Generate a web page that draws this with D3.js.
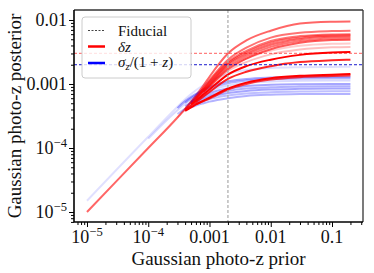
<!DOCTYPE html>
<html>
<head>
<meta charset="utf-8">
<script src="https://cdn.jsdelivr.net/npm/d3@7"></script>
<style>
  body { margin: 0; background: #fff; }
  svg text { font-family: "Liberation Serif", "DejaVu Serif", serif; fill: #111; }
</style>
</head>
<body>
<div id="chart"></div>
<script>
var priorGrid = [1e-5, 1e-4, 3e-4, 4e-4, 5e-4, 6e-4, 8e-4, 1e-3, 2e-3, 4e-3, 1e-2, 3e-2, 0.1, 0.2];

// delta z posterior, one array per bin (null = curve not drawn there)
var deltaZ = [
  [1e-5, 1e-4, 3e-4, 4.1e-4, 5.3e-4, 6.6e-4, 9.5e-4, 1.3e-3, 3.0e-3, 4.8e-3, 6.8e-3, 8.8e-3, 9.4e-3, 9.5e-3],
  [null, null, null, 4.05e-4, 5.2e-4, 6.3e-4, 8.8e-4, 1.15e-3, 2.4e-3, 3.7e-3, 5.3e-3, 6.3e-3, 6.7e-3, 6.8e-3],
  [null, null, null, null, 5.1e-4, 6.1e-4, 8.5e-4, 1.1e-3, 2.2e-3, 3.3e-3, 4.7e-3, 5.6e-3, 5.95e-3, 6.0e-3],
  [null, null, null, null, null, 6.0e-4, 8.2e-4, 1.05e-3, 2.1e-3, 3.1e-3, 4.4e-3, 5.3e-3, 5.7e-3, 5.75e-3],
  [null, null, null, null, 5.0e-4, 5.9e-4, 8.0e-4, 1.0e-3, 2.0e-3, 2.9e-3, 4.1e-3, 5.0e-3, 5.45e-3, 5.5e-3],
  [null, null, null, null, null, 5.8e-4, 7.7e-4, 9.6e-4, 1.85e-3, 2.7e-3, 3.8e-3, 4.7e-3, 5.15e-3, 5.2e-3],
  [null, null, null, null, null, null, 7.5e-4, 9.2e-4, 1.7e-3, 2.5e-3, 3.5e-3, 4.4e-3, 4.85e-3, 4.9e-3],
  [null, null, 3e-4, 4.0e-4, 4.9e-4, 5.8e-4, 7.7e-4, 9.5e-4, 1.8e-3, 2.5e-3, 3.3e-3, 3.95e-3, 4.25e-3, 4.3e-3],
  [null, null, null, 4.0e-4, 4.8e-4, 5.6e-4, 7.3e-4, 8.8e-4, 1.6e-3, 2.2e-3, 2.9e-3, 3.45e-3, 3.75e-3, 3.8e-3],
  [null, null, null, null, 4.8e-4, 5.5e-4, 6.9e-4, 8.2e-4, 1.4e-3, 1.9e-3, 2.4e-3, 2.85e-3, 3.1e-3, 3.15e-3],
  [null, null, null, 3.9e-4, 4.6e-4, 5.2e-4, 6.4e-4, 7.5e-4, 1.2e-3, 1.55e-3, 1.9e-3, 2.2e-3, 2.35e-3, 2.4e-3],
  [null, null, null, 3.8e-4, 4.3e-4, 4.8e-4, 5.5e-4, 6.1e-4, 8.5e-4, 1.05e-3, 1.23e-3, 1.34e-3, 1.4e-3, 1.43e-3],
  [null, null, null, null, null, 4.8e-4, 5.4e-4, 5.9e-4, 8.2e-4, 1.0e-3, 1.17e-3, 1.28e-3, 1.33e-3, 1.36e-3]
];
var deltaAlpha = [0.6, 0.55, 0.55, 0.55, 0.6, 0.55, 0.65, 0.2, 0.25, 1, 0.85, 1, 0.75];

// sigma_z/(1+z) posterior
var sigmaZ = [
  [1.5e-5, 1.5e-4, 4.4e-4, 5.8e-4, 7.0e-4, 8.0e-4, 9.6e-4, 1.1e-3, 1.45e-3, 1.65e-3, 1.78e-3, 1.83e-3, 1.85e-3, 1.86e-3],
  [null, null, 4.2e-4, 5.4e-4, 6.3e-4, 7.0e-4, 8.2e-4, 9.0e-4, 1.1e-3, 1.2e-3, 1.26e-3, 1.29e-3, 1.3e-3, 1.3e-3],
  [null, null, null, 5.1e-4, 6.0e-4, 6.7e-4, 7.7e-4, 8.5e-4, 1.03e-3, 1.13e-3, 1.19e-3, 1.22e-3, 1.23e-3, 1.23e-3],
  [null, 1.4e-4, 3.9e-4, 4.9e-4, 5.7e-4, 6.3e-4, 7.2e-4, 7.9e-4, 9.5e-4, 1.04e-3, 1.09e-3, 1.12e-3, 1.13e-3, 1.13e-3],
  [null, null, null, null, 5.3e-4, 5.8e-4, 6.6e-4, 7.2e-4, 8.5e-4, 9.3e-4, 9.7e-4, 9.9e-4, 1.0e-3, 1.0e-3],
  [null, null, null, 4.5e-4, 5.1e-4, 5.5e-4, 6.2e-4, 6.7e-4, 7.8e-4, 8.5e-4, 8.9e-4, 9.1e-4, 9.2e-4, 9.2e-4],
  [null, null, null, null, null, 5.2e-4, 5.8e-4, 6.3e-4, 7.2e-4, 7.8e-4, 8.2e-4, 8.4e-4, 8.5e-4, 8.5e-4],
  [null, null, 3.4e-4, 4.1e-4, 4.5e-4, 4.9e-4, 5.4e-4, 5.8e-4, 6.6e-4, 7.1e-4, 7.4e-4, 7.6e-4, 7.7e-4, 7.7e-4],
  [null, null, null, null, 4.3e-4, 4.6e-4, 5.0e-4, 5.3e-4, 6.0e-4, 6.5e-4, 6.8e-4, 6.95e-4, 7.0e-4, 7.0e-4]
];
var sigmaAlpha = [0.12, 0.35, 0.3, 0.15, 0.35, 0.3, 0.35, 0.25, 0.3];

var fiducialPrior = 0.002;
var fiducialDelta = 0.003;
var fiducialSigma = 0.002;

var xTicks = [1e-5, 1e-4, 1e-3, 1e-2, 1e-1];
var xTickLabels = [["10", "\u22125"], ["10", "\u22124"], ["0.001"], ["0.01"], ["0.1"]];
var yTicks = [1e-5, 1e-4, 1e-3, 1e-2];
var yTickLabels = [["10", "\u22125"], ["10", "\u22124"], ["0.001"], ["0.01"]];

var w = 374, h = 273;
var margin = {top: 10, right: 11, bottom: 51, left: 74};
var iw = w - margin.left - margin.right;
var ih = h - margin.top - margin.bottom;

var svg = d3.select("#chart").append("svg")
    .attr("width", w)
    .attr("height", h);

var g = svg.append("g")
    .attr("transform", "translate(" + margin.left + "," + margin.top + ")");

var x = d3.scaleLog().domain([Math.pow(10, -5.212), Math.pow(10, -0.494)]).range([0, iw]);
var y = d3.scaleLog().domain([Math.pow(10, -5.156), Math.pow(10, -1.844)]).range([ih, 0]);

g.append("clipPath").attr("id", "clip")
  .append("rect").attr("width", iw).attr("height", ih);

var line = d3.line()
    .defined(function(d) { return d[1] != null; })
    .x(function(d) { return x(d[0]); })
    .y(function(d) { return y(d[1]); })
    .curve(d3.curveMonotoneX);

var curves = g.append("g").attr("clip-path", "url(#clip)");

// interleave the bins: blue first then red for each
var n = Math.max(deltaZ.length, sigmaZ.length);
for (var i = 0; i < n; i++) {
    if (i < sigmaZ.length) {
        curves.append("path")
            .datum(d3.zip(priorGrid, sigmaZ[i]))
            .attr("d", line)
            .attr("fill", "none")
            .attr("stroke", "rgb(0,0,255)")
            .attr("stroke-opacity", sigmaAlpha[i])
            .attr("stroke-width", 2);
    }
    if (i < deltaZ.length) {
        curves.append("path")
            .datum(d3.zip(priorGrid, deltaZ[i]))
            .attr("d", line)
            .attr("fill", "none")
            .attr("stroke", "rgb(255,0,0)")
            .attr("stroke-opacity", deltaAlpha[i])
            .attr("stroke-width", 2);
    }
}

// fiducial lines
g.append("line")
    .attr("x1", x(fiducialPrior)).attr("x2", x(fiducialPrior))
    .attr("y1", 0).attr("y2", ih)
    .attr("stroke", "#aaa").attr("stroke-width", 1.2)
    .attr("stroke-dasharray", "3,2");
g.append("line")
    .attr("x1", 0).attr("x2", iw)
    .attr("y1", y(fiducialDelta)).attr("y2", y(fiducialDelta))
    .attr("stroke", "rgb(255,0,0)").attr("stroke-opacity", 0.5).attr("stroke-width", 1.3)
    .attr("stroke-dasharray", "3,2");
g.append("line")
    .attr("x1", 0).attr("x2", iw)
    .attr("y1", y(fiducialSigma)).attr("y2", y(fiducialSigma))
    .attr("stroke", "rgb(0,0,200)").attr("stroke-opacity", 0.9).attr("stroke-width", 1)
    .attr("stroke-dasharray", "3,2");

// minor ticks
function minors(scale) {
    var dom = scale.domain(), out = [];
    for (var e = -6; e <= 0; e++) {
        for (var m = 2; m <= 9; m++) {
            var v = m * Math.pow(10, e);
            if (v >= dom[0] && v <= dom[1]) out.push(v);
        }
    }
    return out;
}

var xAxisMinor = d3.axisBottom(x).tickValues(minors(x)).tickSize(3).tickFormat("");
var xAxis = d3.axisBottom(x).tickValues(xTicks).tickSize(5).tickFormat("");
var yAxisMinor = d3.axisLeft(y).tickValues(minors(y)).tickSize(3).tickFormat("");
var yAxis = d3.axisLeft(y).tickValues(yTicks).tickSize(5).tickFormat("");

[[xAxisMinor, "b"], [xAxis, "b"], [yAxisMinor, "l"], [yAxis, "l"]].forEach(function(a) {
    var ax = g.append("g").call(a[0]);
    if (a[1] == "b") ax.attr("transform", "translate(0," + ih + ")");
    ax.select(".domain").remove();
    ax.selectAll("line").attr("stroke", "#000").attr("stroke-width", 1);
});

// tick labels with superscripts
function addLabel(sel, parts, size) {
    sel.append("tspan").text(parts[0]);
    if (parts.length > 1) {
        sel.append("tspan").attr("dy", -7).attr("font-size", size * 0.7).text(parts[1]);
    }
}

xTicks.forEach(function(t, i) {
    var txt = g.append("text")
        .attr("x", x(t)).attr("y", ih + 21)
        .attr("text-anchor", "middle")
        .attr("font-size", 18);
    addLabel(txt, xTickLabels[i], 18);
});
yTicks.forEach(function(t, i) {
    var txt = g.append("text")
        .attr("x", -7).attr("y", y(t) + 6)
        .attr("text-anchor", "end")
        .attr("font-size", 18);
    addLabel(txt, yTickLabels[i], 18);
});

// spines
g.append("line").attr("x1", 0).attr("x2", iw).attr("y1", 0).attr("y2", 0)
    .attr("stroke", "#333").attr("stroke-width", 1.3);
g.append("line").attr("x1", iw).attr("x2", iw).attr("y1", 0).attr("y2", ih)
    .attr("stroke", "#333").attr("stroke-width", 1.3);
g.append("line").attr("x1", 0).attr("x2", iw).attr("y1", ih).attr("y2", ih)
    .attr("stroke", "#000").attr("stroke-width", 1.6);
g.append("line").attr("x1", 0).attr("x2", 0).attr("y1", 0).attr("y2", ih)
    .attr("stroke", "#000").attr("stroke-width", 1.6);

// axis titles
svg.append("text")
    .attr("x", margin.left + iw / 2).attr("y", h - 8)
    .attr("text-anchor", "middle").attr("font-size", 19)
    .text("Gaussian photo-z prior");
svg.append("text")
    .attr("transform", "translate(21," + (margin.top + ih / 2) + ") rotate(-90)")
    .attr("text-anchor", "middle").attr("font-size", 19)
    .text("Gaussian photo-z posterior");

// legend
var leg = svg.append("g").attr("transform", "translate(82,17)");
leg.append("rect")
    .attr("width", 109).attr("height", 61).attr("rx", 3)
    .attr("fill", "#fff").attr("fill-opacity", 0.8)
    .attr("stroke", "#ccc").attr("stroke-width", 1);

var legendRows = [
    {y: 13.5, color: "#444", width: 1, dash: "2,1.5"},
    {y: 29.5, color: "rgb(255,0,0)", width: 2.5, dash: null},
    {y: 46, color: "rgb(0,0,255)", width: 2.5, dash: null}
];
legendRows.forEach(function(r) {
    leg.append("line")
        .attr("x1", 6).attr("x2", 23).attr("y1", r.y).attr("y2", r.y)
        .attr("stroke", r.color).attr("stroke-width", r.width)
        .attr("stroke-dasharray", r.dash);
});

leg.append("text").attr("x", 36).attr("y", legendRows[0].y + 5).attr("font-size", 15)
    .text("Fiducial");
var t1 = leg.append("text").attr("x", 36).attr("y", legendRows[1].y + 5).attr("font-size", 15)
    .attr("font-style", "italic");
t1.append("tspan").text("\u03b4z");
var t2 = leg.append("text").attr("x", 36).attr("y", legendRows[2].y + 4).attr("font-size", 15);
t2.append("tspan").attr("font-style", "italic").text("\u03c3");
t2.append("tspan").attr("font-style", "italic").attr("font-size", 11).attr("dy", 3).text("z");
t2.append("tspan").attr("dy", -3).text("/(1 + ");
t2.append("tspan").attr("font-style", "italic").text("z");
t2.append("tspan").text(")");
</script>
</body>
</html>
